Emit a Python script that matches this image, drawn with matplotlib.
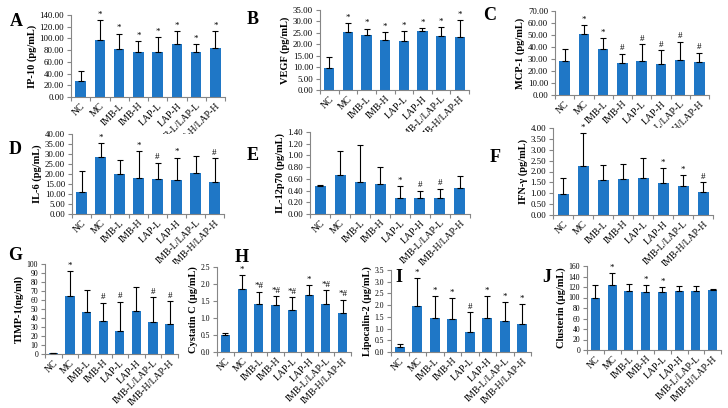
import matplotlib
matplotlib.use("Agg")
import matplotlib.pyplot as plt
import numpy as np

plt.rcParams['font.family'] = ['Liberation Serif', 'DejaVu Serif']

groups = ['NC', 'MC', 'IMB-L', 'IMB-H', 'LAP-L', 'LAP-H', 'IMB-L/LAP-L', 'IMB-H/LAP-H']

# A - IP-10
ip10_mean = [28, 98, 82, 76, 76, 90, 76, 83]
ip10_sd = [16, 33, 26, 19, 26, 23, 14, 29]
ip10_sig = ['', '*', '*', '*', '*', '*', '*', '*']
# B - VEGF
vegf_mean = [9.5, 25.5, 24.0, 22.0, 21.6, 25.8, 23.6, 23.2]
vegf_sd = [4.8, 3.7, 2.8, 3.2, 4.1, 1.2, 3.9, 7.3]
vegf_sig = ['', '*', '*', '*', '*', '*', '*', '*']
# C - MCP-1
mcp1_mean = [28.5, 51.0, 38.5, 26.5, 28.0, 25.8, 29.5, 27.3]
mcp1_sd = [10.0, 7.5, 9.0, 8.0, 14.5, 11.5, 15.0, 8.0]
mcp1_sig = ['', '*', '*', '#', '#', '#', '#', '#']
# D - IL-6
il6_mean = [10.8, 28.3, 20.2, 18.0, 17.6, 17.1, 20.6, 16.2]
il6_sd = [10.6, 7.3, 7.0, 13.4, 8.0, 11.1, 8.5, 11.6]
il6_sig = ['', '*', '', '*', '#', '*', '', '#']
# E - IL-12p70
il12_mean = [0.48, 0.67, 0.55, 0.52, 0.27, 0.27, 0.27, 0.44]
il12_sd = [0.01, 0.41, 0.63, 0.28, 0.21, 0.13, 0.16, 0.21]
il12_sig = ['', '', '', '', '*', '#', '#', '']
# F - IFN-gamma
ifng_mean = [0.97, 2.24, 1.62, 1.65, 1.70, 1.45, 1.33, 1.05]
ifng_sd = [0.71, 1.51, 0.68, 0.70, 0.93, 0.69, 0.51, 0.47]
ifng_sig = ['', '*', '', '', '', '*', '*', '#']
# G - TIMP-1
timp1_mean = [1, 65, 47, 37, 26, 48, 36, 33]
timp1_sd = [0, 27, 24, 20, 32, 26, 27, 26]
timp1_sig = ['', '*', '', '#', '#', '', '#', '#']
# H - Cystatin C
cysc_mean = [0.50, 1.86, 1.41, 1.37, 1.23, 1.67, 1.41, 1.15]
cysc_sd = [0.07, 0.41, 0.36, 0.27, 0.38, 0.29, 0.40, 0.39]
cysc_sig = ['', '*', '*#', '*#', '*#', '*', '*#', '*#']
# I - Lipocalin-2
lcn2_mean = [0.20, 1.98, 1.47, 1.40, 0.86, 1.44, 1.32, 1.21]
lcn2_sd = [0.15, 1.17, 0.91, 0.90, 0.83, 0.94, 0.80, 0.83]
lcn2_sig = ['', '*', '*', '*', '#', '*', '*', '*']
# J - Clusterin
clu_mean = [100, 124, 113, 110, 110, 112, 112, 115]
clu_sd = [23, 22, 12, 13, 10, 10, 10, 2]
clu_sig = ['', '*', '', '*', '*', '', '', '']

W, H = 728, 408
fig = plt.figure(figsize=(W / 100, H / 100), dpi=100)

BLUE = '#1f77c6'
GREY = '#868686'


def px_rect(left, top, right, bottom):
    return [left / W, 1 - bottom / H, (right - left) / W, (bottom - top) / H]


def panel(rect, mean, sd, sig, ymax, ystep, fmt, ylabel, tick_fs=6.3):
    ax = fig.add_axes(px_rect(*rect))
    x = np.arange(len(groups))
    ax.bar(x, mean, width=0.55, color=BLUE, zorder=2)
    ax.errorbar(x, mean, yerr=[np.zeros(len(sd)), sd], fmt='none', ecolor='black',
                elinewidth=0.8, capsize=2, capthick=0.8, zorder=3)
    for xi, m, s, t in zip(x, mean, sd, sig):
        if t:
            ax.annotate(t, (xi, m + s), xytext=(0, 1), textcoords='offset points',
                        ha='center', va='bottom', fontsize=6.5)
    ax.set_xlim(-0.5, len(groups) - 0.5)
    ax.set_ylim(0, ymax)
    yt = np.arange(0, ymax + ystep / 2, ystep)
    ax.set_yticks(yt)
    ax.set_yticklabels([fmt % v for v in yt], fontsize=tick_fs)
    ax.set_xticks(x)
    ax.set_xticklabels(groups, rotation=45, ha='right', rotation_mode='anchor', fontsize=7)
    ax.set_xticks(np.arange(-0.5, len(groups)), minor=True)
    ax.tick_params(axis='x', which='major', length=0, pad=3)
    ax.tick_params(axis='x', which='minor', length=3, color=GREY, width=0.8)
    ax.tick_params(axis='y', length=3, color=GREY, width=0.8, pad=2)
    for side in ['top', 'right']:
        ax.spines[side].set_visible(False)
    for side in ['left', 'bottom']:
        ax.spines[side].set_color(GREY)
        ax.spines[side].set_linewidth(0.8)
    ax.set_ylabel(ylabel, fontsize=7.5, fontweight='bold', labelpad=2)
    return ax


panel((71, 15, 225, 97), ip10_mean, ip10_sd, ip10_sig, 140, 20, '%.2f', 'IP-10 (pg/mL)')
panel((320, 10, 469, 90), vegf_mean, vegf_sd, vegf_sig, 35, 5, '%.2f', 'VEGF (pg/mL)')
panel((555, 11, 709, 95), mcp1_mean, mcp1_sd, mcp1_sig, 70, 10, '%.2f', 'MCP-1 (pg/mL)')
panel((72, 134, 224, 214), il6_mean, il6_sd, il6_sig, 40, 5, '%.2f', 'IL-6 (pg/mL)')
panel((310, 132, 470, 214), il12_mean, il12_sd, il12_sig, 1.4, 0.2, '%.2f', 'IL-12p70 (pg/mL)')
panel((553, 128, 713, 215), ifng_mean, ifng_sd, ifng_sig, 4.0, 0.5, '%.2f', 'IFN-γ (pg/mL)')
panel((45, 264, 178, 354), timp1_mean, timp1_sd, timp1_sig, 100, 10, '%d', 'TIMP-1(ng/ml)', 5.5)
panel((217, 267, 351, 352), cysc_mean, cysc_sd, cysc_sig, 2.5, 0.5, '%.1f', 'Cystatin C (μg/mL)', 5.5)
panel((391, 270, 531, 352), lcn2_mean, lcn2_sd, lcn2_sig, 3.5, 0.5, '%.1f', 'Lipocalin-2 (μg/mL)', 5.5)
panel((587, 266, 721, 350), clu_mean, clu_sd, clu_sig, 160, 20, '%d', 'Clusterin (μg/mL)', 5.5)

letters = [('A', 16, 22), ('B', 253, 20), ('C', 490, 15), ('D', 15, 150), ('E', 253, 155),
           ('F', 495, 158), ('G', 15, 255), ('H', 242, 258), ('I', 399, 278), ('J', 547, 277)]
for s, lx, ly in letters:
    fig.text(lx / W, 1 - ly / H, s, fontsize=13, fontweight='bold', ha='center', va='center')

fig.savefig('out.png', dpi=100)
